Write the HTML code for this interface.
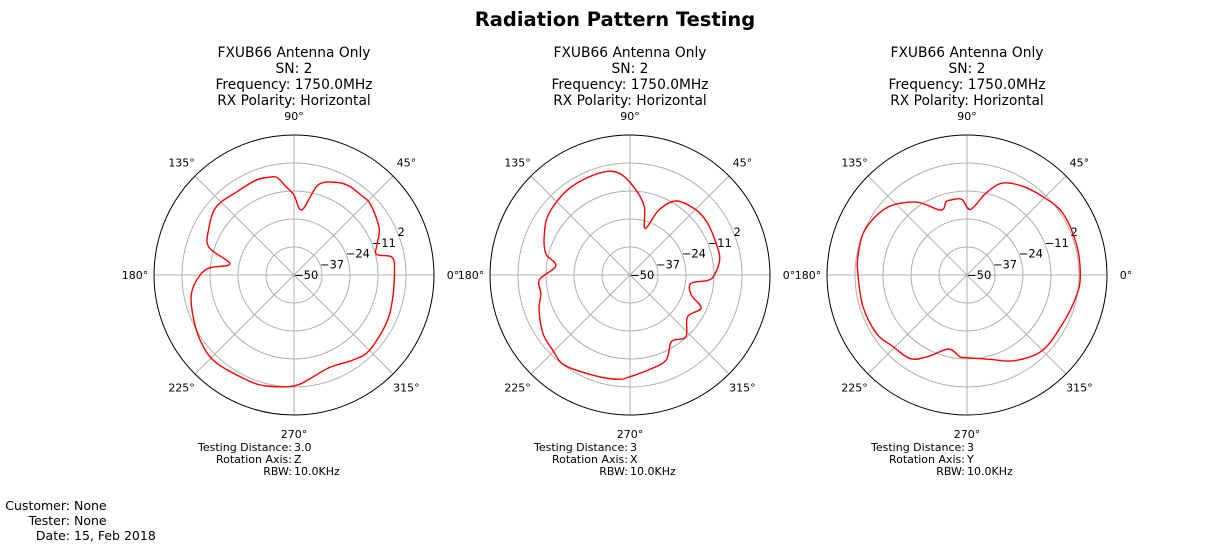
<!DOCTYPE html>
<html><head><meta charset="utf-8"><style>
html,body{margin:0;padding:0;background:#fff}
svg{display:block;font-family:"DejaVu Sans","Liberation Sans",sans-serif}
</style></head><body>
<svg id="fig" width="1230" height="545" viewBox="0 0 1230 545">
<text x="615" y="26" text-anchor="middle" font-size="19.5" font-weight="bold">Radiation Pattern Testing</text>
<g font-size="12.5">
<text x="70" y="510" text-anchor="end">Customer:</text><text x="74" y="510">None</text>
<text x="70" y="525" text-anchor="end">Tester:</text><text x="74" y="525">None</text>
<text x="70" y="540" text-anchor="end">Date:</text><text x="74" y="540">15, Feb 2018</text>
</g>
</svg>
<script>
const angles1=[0,10,14,20,29,43,50,58,65,75,83,90,95,100,105,112,125,139,152,162,170,175,180,190,202,215,228,246,256,270,279,291,305,315,332,345];
const gains1=[-3.4,-3.6,-10.5,-9.0,-4.8,-1.6,-1.6,-1.4,-2.6,-6.7,-19.5,-12.9,-9.0,-4.0,-3.1,-2.6,-3.1,-2.0,-5.1,-8.5,-19.8,-11.0,-6.4,-1.7,0.6,3.1,4.5,3.4,3.1,1.5,-1.4,-4.0,-1.9,-0.5,-1.6,-2.8];
const angles2=[0,10,20,34,45,58,66,72,78,86,96,107,125,143,156,166,173,183,192,201,214,224,234,251,264,270,281,293,302,312,324,335,342,352,356];
const gains2=[-10.8,-7.7,-7.4,-6.7,-7.0,-9.5,-16.9,-27.3,-17.8,-10.4,-2.5,-0.6,-0.9,-2.8,-6.4,-9.8,-15.3,-7.9,-7.7,-4.8,-1.3,0.0,1.7,-0.5,-1.3,-2.8,-5.1,-7.1,-13.6,-11.3,-17.0,-13.6,-20.1,-21.5,-13.8];
const angles3=[0,16,33,46,58,69,77,87,94,102,106,112,125,140,156,170,180,197,213,224,236,245,256,265,270,285,299,315,333,349];
const gains3=[2.6,2.8,2.9,0.6,-1.4,-4.3,-11.0,-19.5,-14.7,-14.4,-14.6,-17.5,-8.7,-1.4,1.8,1.4,0.6,0.5,0.0,-2.2,-3.1,-8.4,-14.6,-11.9,-11.6,-9.5,-4.5,-0.5,-0.2,1.7];
const rTicks=[-50,-37,-24,-11,2];
const thetaTicks=[0,45,90,135,180,225,270,315];
const axesInfo=[["3.0","Z"],["3","X"],["3","Y"]];
const subTitle=["FXUB66 Antenna Only","SN: 2","Frequency: 1750.0MHz","RX Polarity: Horizontal"];
const RMIN=-50,RMAX=15,R=140;
const NS="http://www.w3.org/2000/svg";
const svg=document.getElementById('fig');
function mk(tag,attrs,parent){const e=document.createElementNS(NS,tag);for(const k in attrs)e.setAttribute(k,attrs[k]);(parent||svg).appendChild(e);return e;}
function rScale(v){return (v-RMIN)/(RMAX-RMIN)*R;}
function pt(cx,cy,deg,r){const a=deg*Math.PI/180;return [cx+r*Math.cos(a),cy-r*Math.sin(a)];}
function smoothClosed(P){const n=P.length;let d='M'+P[0][0].toFixed(1)+' '+P[0][1].toFixed(1);
 for(let i=0;i<n;i++){const p0=P[(i-1+n)%n],p1=P[i],p2=P[(i+1)%n],p3=P[(i+2)%n];const t=0.5/3;
  const c1=[p1[0]+(p2[0]-p0[0])*t,p1[1]+(p2[1]-p0[1])*t],c2=[p2[0]-(p3[0]-p1[0])*t,p2[1]-(p3[1]-p1[1])*t];
  d+=' C'+c1[0].toFixed(1)+' '+c1[1].toFixed(1)+' '+c2[0].toFixed(1)+' '+c2[1].toFixed(1)+' '+p2[0].toFixed(1)+' '+p2[1].toFixed(1);}
 return d+' Z';}
const centers=[294,630,967];
const series=[[angles1,gains1],[angles2,gains2],[angles3,gains3]];
centers.forEach((cx,i)=>{
 const cy=275;
 const g=mk('g',{});
 
 
 subTitle.forEach((t,j)=>{const tx=mk('text',{x:cx,y:57+j*16,'text-anchor':'middle','font-size':13.8},g);tx.textContent=t;
  });
 rTicks.forEach(v=>{const r=rScale(v);if(r>0){const c=mk('circle',{cx:cx,cy:cy,r:r,fill:'none',stroke:'#b0b0b0','stroke-width':1},g);
  }});
 thetaTicks.forEach(a=>{const p=pt(cx,cy,a,R);const l=mk('line',{x1:cx,y1:cy,x2:p[0],y2:p[1],stroke:'#b0b0b0','stroke-width':1},g);
  
  const q=pt(cx,cy,a,159);const t=mk('text',{x:q[0],y:q[1]+4,'text-anchor':'middle','font-size':11},g);t.textContent=a+'°';
  });
 rTicks.forEach(v=>{const p=pt(cx,cy,22.5,rScale(v));const t=mk('text',{x:p[0],y:p[1]+4,'font-size':11.5},g);t.textContent=(v<0?'\u2212'+(-v):v);
  });
 const oc=mk('circle',{cx:cx,cy:cy,r:R,fill:'none',stroke:'#000','stroke-width':1},g);
 
 const [A,G]=series[i];
 const P=A.map((a,k)=>pt(cx,cy,a,rScale(G[k])));
 const path=mk('path',{d:smoothClosed(P),fill:'none',stroke:'#ff0000','stroke-width':1.4,'stroke-linejoin':'round'},g);
 
 const info=[["Testing Distance:",axesInfo[i][0]],["Rotation Axis:",axesInfo[i][1]],["RBW:","10.0KHz"]];
 info.forEach((r,j)=>{const y=451+j*12;
  const a=mk('text',{x:cx-2,y:y,'text-anchor':'end','font-size':11},g);a.textContent=r[0];
  
  const b=mk('text',{x:cx,y:y,'font-size':11},g);b.textContent=r[1];
  });
});
</script>
</body></html>
